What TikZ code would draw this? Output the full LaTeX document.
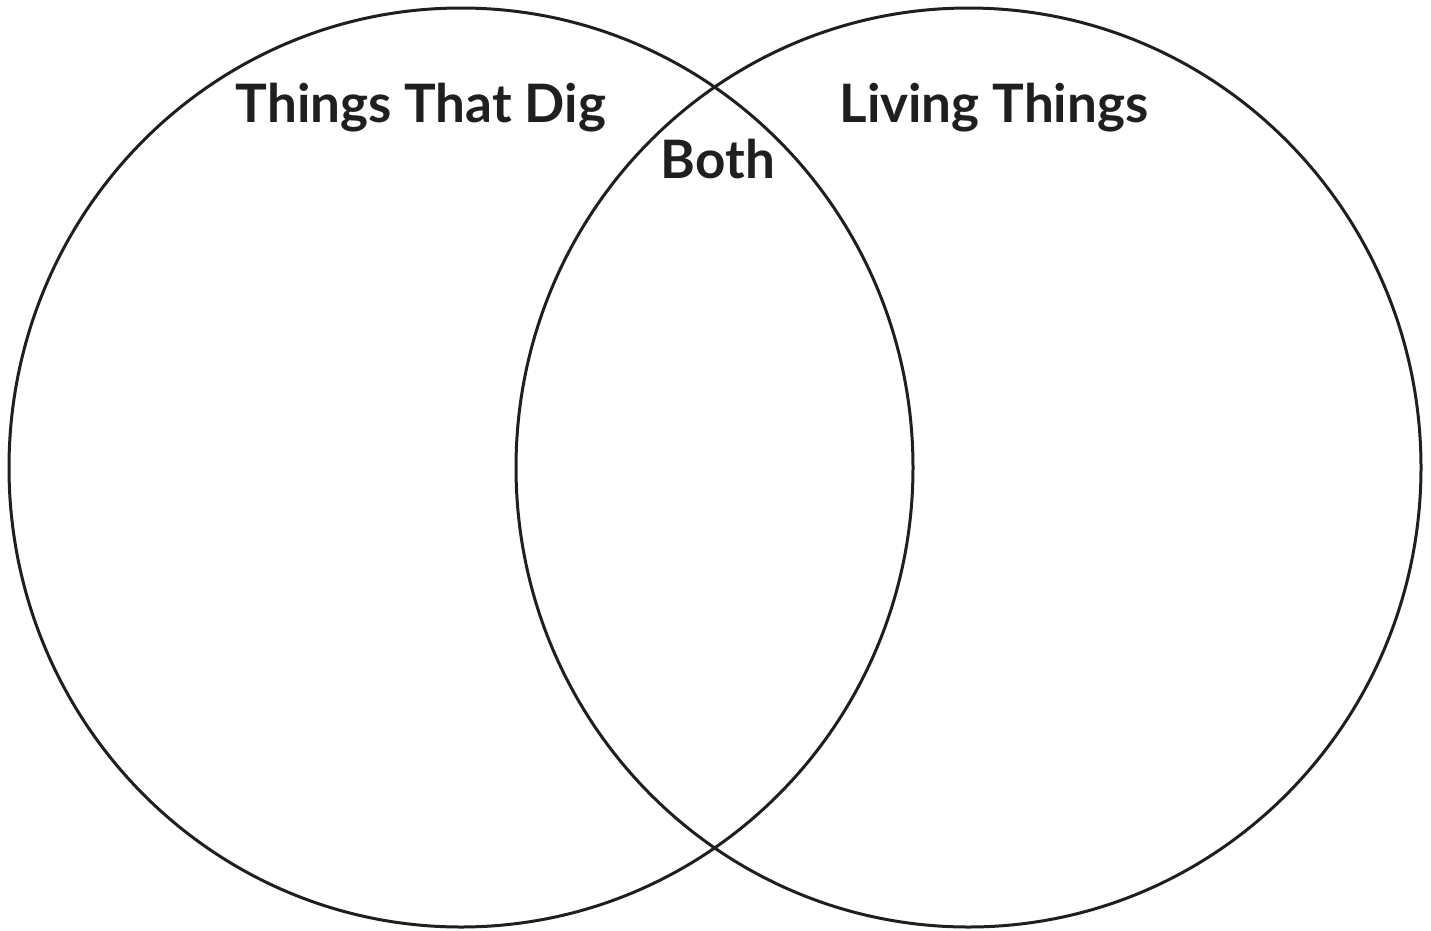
\documentclass[tikz,border=0pt]{standalone}
\usepackage{fontspec}
\setmainfont{Lato}
\begin{document}
\begin{tikzpicture}[x=1pt,y=-1pt,
  ring/.style={draw=black!88, line width=3pt},
  label/.style={font=\fontsize{53}{60}\selectfont\bfseries, text=black!88, anchor=base, inner sep=0pt}]
\useasboundingbox (0,0) rectangle (1431,930);
\draw[ring] (461,467.5) ellipse [x radius=452, y radius=459.5];
\draw[ring] (968.5,467.5) ellipse [x radius=452.5, y radius=459.5];
\node[label] (dig) at (421,122) {Things That Dig};
\node[label] (liv) at (994,122) {Living Things};
\node[label] (both) at (718,178) {Both};
\end{tikzpicture}
\end{document}
